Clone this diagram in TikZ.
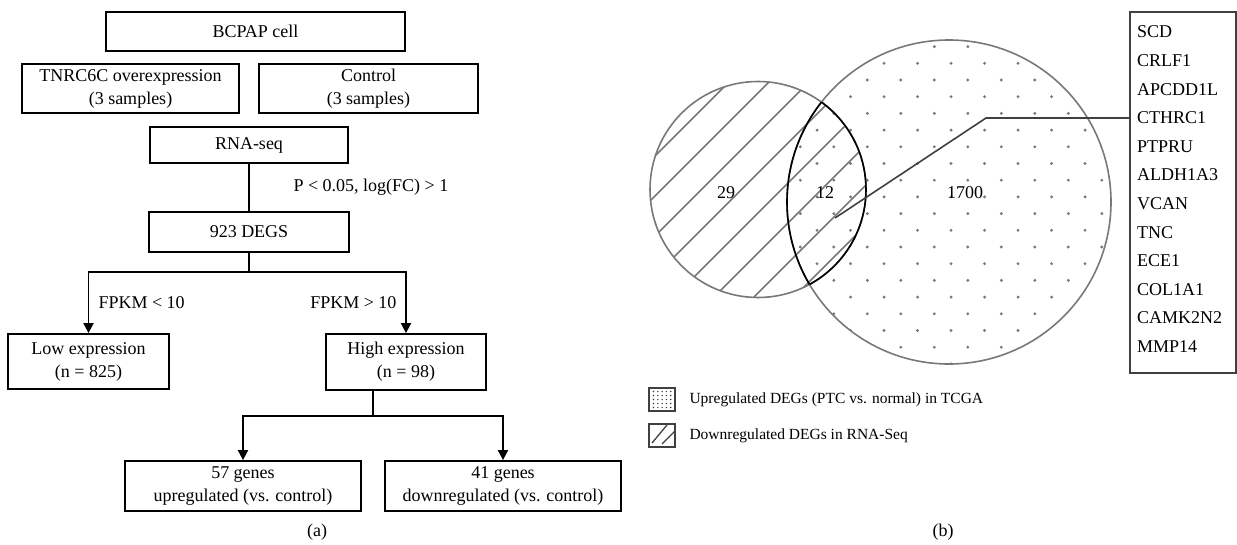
\documentclass[tikz,border=0pt]{standalone}
\usepackage{fontspec}
\setmainfont{Liberation Serif}
\usepackage{tikz}
\usetikzlibrary{arrows.meta}

\definecolor{venngray}{gray}{0.47}
\definecolor{linegray}{gray}{0.25}

\tikzset{
  box/.style={draw, line width=1.8pt, inner sep=0pt, align=center},
  arr/.style={line width=1.8pt, -{Triangle[width=10pt,length=10pt]}},
  link/.style={line width=1.8pt},
  venn/.style={draw=venngray, line width=1.6pt},
  hatch/.style={venngray, line width=1.7pt},
  keybox/.style={draw=linegray, line width=1.6pt, minimum width=26pt, minimum height=23pt, inner sep=0pt},
  keytext/.style={anchor=west, font=\fontsize{15.5}{19}\selectfont}
}

\begin{document}
\begin{tikzpicture}[x=1pt, y=-1pt, font=\fontsize{18}{23}\selectfont]

\useasboundingbox (0,0) rectangle (1237,544);

\node [box, minimum width=299pt, minimum height=39pt] (cell) at (255.5,31.5) {BCPAP cell};
\node [box, minimum width=217pt, minimum height=49pt] (tnrc) at (130.5,88.5) {TNRC6C overexpression\\(3 samples)};
\node [box, minimum width=219pt, minimum height=49pt] (ctrl) at (368.5,88.5) {Control\\(3 samples)};
\node [box, minimum width=198pt, minimum height=36pt] (rna) at (249,145) {RNA-seq};
\node [box, minimum width=200pt, minimum height=40pt] (degs) at (249,232) {923 DEGS};
\node [box, minimum width=161pt, minimum height=55pt] (low) at (88.5,361.5) {Low expression\\(n = 825)};
\node [box, minimum width=160pt, minimum height=56pt] (high) at (406,362) {High expression\\(n = 98)};
\node [box, minimum width=236pt, minimum height=50pt] (up) at (243,486) {57 genes\\upregulated (vs. control)};
\node [box, minimum width=236pt, minimum height=50pt] (down) at (503,486) {41 genes\\downregulated (vs. control)};

\draw [link] (rna) -- (degs);
\node [anchor=west] (pcut) at (290,187) {P < 0.05, log(FC) > 1};

\coordinate (dsplit) at (249,272);
\draw [link] (degs) -- (dsplit);
\draw [arr] (dsplit) -| (low);
\draw [arr] (dsplit) -| (high);
\node [anchor=west] (fplow) at (95,303) {FPKM < 10};
\node [anchor=east] (fphigh) at (400,303) {FPKM > 10};

\coordinate (hsplit) at (373,416);
\draw [link] (high.south -| hsplit) -- (hsplit);
\draw [arr] (hsplit) -| (up);
\draw [arr] (hsplit) -| (down);

\node (cap a) at (317,532) {(a)};

\begin{scope}
  \clip (949,202) circle (162pt);
  \foreach \i in {0,...,20}
    \foreach \j in {0,...,11} {
      \pgfmathsetmacro\xx{766.8+\j*33.5+mod(\i+1,2)*16.75}
      \pgfmathsetmacro\yy{29.9+\i*16.7}
      \fill [venngray] (\xx,\yy) circle (1.6pt);
    }
\end{scope}

\begin{scope}
  \clip (758,189.5) circle (108pt);
  \foreach \c in {811,851,...,1131}
    \draw [hatch] (620,\c-620) -- (900,\c-900);
\end{scope}

\draw [venn] (758,189.5) circle (108pt);
\draw [venn] (949,202) circle (162pt);
\begin{scope}
  \clip (949,202) circle (162pt);
  \draw [line width=1.6pt] (758,189.5) circle (108pt);
\end{scope}
\begin{scope}
  \clip (758,189.5) circle (108pt);
  \draw [line width=1.6pt] (949,202) circle (162pt);
\end{scope}

\node (n29) at (726,193) {29};
\node (n12) at (825,193) {12};
\node (n1700) at (965,193) {1700};

\node [draw=linegray, line width=1.6pt, minimum width=106pt, minimum height=361pt, inner sep=0pt] (genes) at (1183,192.5) {};
\foreach \g [count=\k from 0] in {SCD,CRLF1,APCDD1L,CTHRC1,PTPRU,ALDH1A3,VCAN,TNC,ECE1,COL1A1,CAMK2N2,MMP14}
  \node [anchor=west, inner sep=0pt] (gene\k) at (1137,32+\k*28.6) {\g};

\coordinate (ovl) at (835,218);
\coordinate (knee) at (986,118);
\draw [linegray, line width=1.6pt] (ovl) -- (knee) -- (knee -| genes.west);

\node [keybox] (keyup) at (662,399.5) {};
\foreach \a in {0,...,4}
  \foreach \b in {0,...,4}
    \fill [linegray] (653.5+\a*4.3,391.5+\b*4) circle (0.8pt);
\node [keybox] (keydown) at (662,435.5) {};
\draw [linegray, line width=1.3pt] (keydown.center) ++(-10,7.5) -- ++(15,-18);
\draw [linegray, line width=1.3pt] (keydown.center) ++(0,8.5) -- ++(13,-13);
\node [keytext] (keyuptext) at (686,400) {Upregulated DEGs (PTC vs. normal) in TCGA};
\node [keytext] (keydowntext) at (686,436) {Downregulated DEGs in RNA-Seq};

\node (cap b) at (943,532) {(b)};

\end{tikzpicture}
\end{document}
